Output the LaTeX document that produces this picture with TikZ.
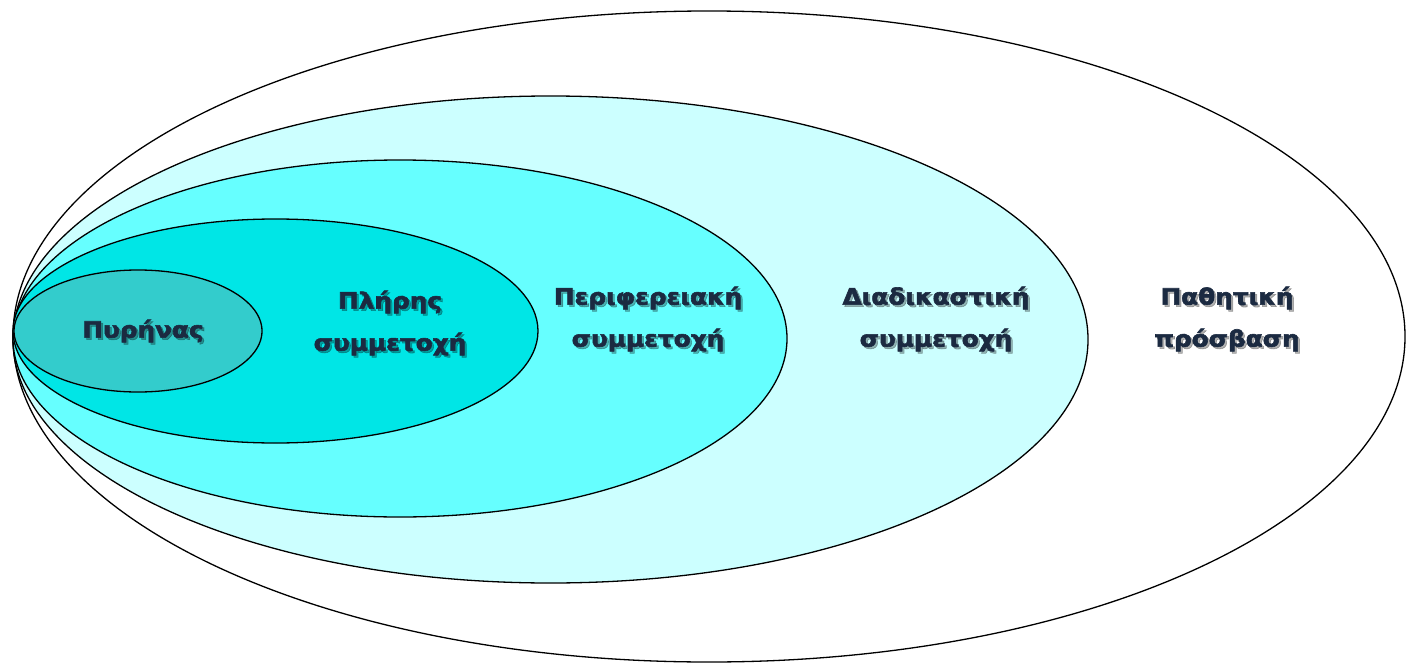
\documentclass[tikz,border=0pt]{standalone}
\usepackage{fontspec}
\setmainfont{DejaVu Sans}
\newfontfamily\lblfont[FakeBold=2.6, FakeStretch=1.1]{DejaVu Sans Bold}
\usetikzlibrary{shapes.geometric}
\definecolor{txtnavy}{HTML}{1B2A41}
\definecolor{corefill}{HTML}{33CCCC}
\definecolor{fullfill}{HTML}{00E6E6}
\definecolor{perifill}{HTML}{66FFFF}
\definecolor{procfill}{HTML}{CCFFFF}
\tikzset{
  ring/.style={ellipse, draw=black, line width=1.3bp, inner sep=0pt},
  lbl/.style={text=txtnavy, align=center, inner sep=0pt,
    font=\lblfont\fontsize{22.5bp}{42bp}\selectfont},
  shd/.style={lbl, text=black, text opacity=0.3},
}
\begin{document}
\begin{tikzpicture}[x=1bp,y=-1bp]
\useasboundingbox (0,0) rectangle (1406,663);
\fill[white] (0,0) rectangle (1406,663);
\node[ring, fill=white, minimum width=1392bp, minimum height=651bp] (passive) at (709,336.5) {};
\node[ring, fill=procfill, minimum width=1075bp, minimum height=487bp] (proc) at (550.5,339.5) {};
\node[ring, fill=perifill, minimum width=774bp, minimum height=357bp] (peri) at (400,338.5) {};
\node[ring, fill=fullfill, minimum width=525bp, minimum height=224bp] (full) at (275.5,331) {};
\node[ring, fill=corefill, minimum width=248bp, minimum height=122bp] (core) at (138,331) {};
% text shadows
\node[shd] (s1) at (145,333) {Πυρήνας};
\node[shd] (s2) at (392,325) {Πλήρης\\συμμετοχή};
\node[shd] (s3) at (650,321) {Περιφερειακή\\συμμετοχή};
\node[shd] (s4) at (938,321) {Διαδικαστική\\συμμετοχή};
\node[shd] (s5) at (1229,321) {Παθητική\\πρόσβαση};
% labels
\node[lbl] (t1) at (143,331) {Πυρήνας};
\node[lbl] (t2) at (390,323) {Πλήρης\\συμμετοχή};
\node[lbl] (t3) at (648,319) {Περιφερειακή\\συμμετοχή};
\node[lbl] (t4) at (936,319) {Διαδικαστική\\συμμετοχή};
\node[lbl] (t5) at (1227,319) {Παθητική\\πρόσβαση};
\end{tikzpicture}
\end{document}
